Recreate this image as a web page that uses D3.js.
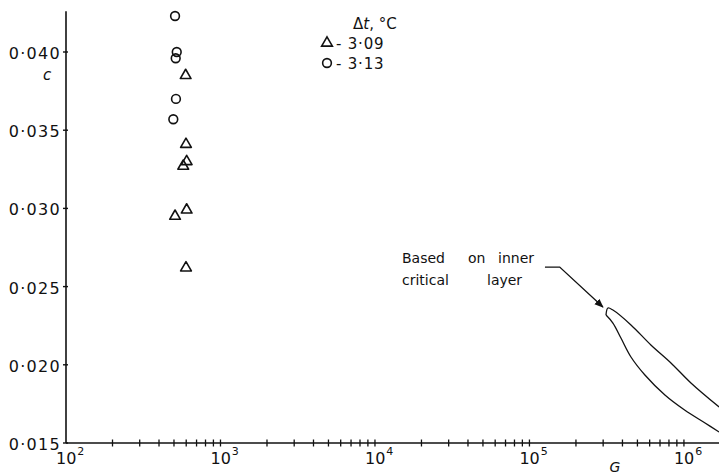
<!DOCTYPE html>
<html>
<head>
<meta charset="utf-8">
<script src="https://cdn.jsdelivr.net/npm/d3@7"></script>
<style>
  html, body { margin: 0; padding: 0; background: #fff; }
  svg { display: block; }
  text { font-family: "DejaVu Sans", sans-serif; fill: #111; }
</style>
</head>
<body>
<svg id="chart" width="719" height="476"></svg>
<script>
// ---- data ----
const circleG = [508, 521, 513, 515, 495];
const circleC = [0.0423, 0.0400, 0.0396, 0.0370, 0.0357];
const triG = [595, 598, 604, 574, 508, 604, 598];
const triC = [0.0385, 0.0341, 0.0330, 0.0327, 0.0295, 0.0299, 0.0262];

const upperG = [3.13e5, 3.22e5, 3.47e5, 4.54e5, 6.11e5, 8.24e5, 1.11e6, 1.69e6];
const upperC = [0.02318, 0.02363, 0.02350, 0.02255, 0.02127, 0.02012, 0.01884, 0.01730];
const lowerG = [3.13e5, 3.47e5, 3.91e5, 4.54e5, 5.59e5, 7.53e5, 1.01e6, 1.37e6, 1.69e6];
const lowerC = [0.02318, 0.02267, 0.02171, 0.02050, 0.01935, 0.01807, 0.01711, 0.01628, 0.01570];

const leaderG = [1.26e5, 1.57e5, 2.99e5];
const leaderC = [0.02625, 0.02625, 0.02369];

const yTicks = [0.015, 0.020, 0.025, 0.030, 0.035, 0.040];
const yTickLabels = ["0·015", "0·020", "0·025", "0·030", "0·035", "0·040"];
const xDecades = [2, 3, 4, 5, 6];
const xLabelBase = "10";
const legendTitle = ["Δ", "t", ", °C"];
const legendRows = [{ sym: "triangle", label: "-  3·09" }, { sym: "circle", label: "-  3·13" }];
const annotLine1 = ["Based", "on", "inner"];
const annotLine2 = ["critical", "layer"];

// ---- layout ----
const svg = d3.select("#chart");
const x = d3.scaleLog().domain([1e2, Math.pow(10, 6.227)]).range([66, 719]);
const y = d3.scaleLinear().domain([0.015, 0.040]).range([443, 52]);
const ink = "#111";

// axes lines
svg.append("line").attr("x1", x(1e2)).attr("x2", x.range()[1])
  .attr("y1", y(0.015)).attr("y2", y(0.015))
  .attr("stroke", ink).attr("stroke-width", 1.6);
svg.append("line").attr("x1", x(1e2)).attr("x2", x(1e2))
  .attr("y1", y(0.015)).attr("y2", y(0.0426))
  .attr("stroke", ink).attr("stroke-width", 1.6);

// y ticks & labels
const yg = svg.append("g");
yg.selectAll("line.t").data(yTicks).join("line")
  .attr("x1", x(1e2) - 3).attr("x2", x(1e2) + 2)
  .attr("y1", d => y(d)).attr("y2", d => y(d))
  .attr("stroke", ink).attr("stroke-width", 1.4);
yg.selectAll("text").data(yTicks).join("text")
  .attr("x", x(1e2) - 5).attr("y", d => y(d) + 7)
  .attr("text-anchor", "end")
  .style("font-size", "16px").style("letter-spacing", "1.3px")
  .text((d, i) => yTickLabels[i]);

// x ticks (log minor + major)
const xTickVals = [];
for (let e = 2; e <= 6; e++) {
  for (let k = 1; k <= 9; k++) {
    const v = k * Math.pow(10, e);
    if (v <= x.domain()[1] && v > 1e2) xTickVals.push(v);
  }
}
svg.append("g").selectAll("line").data(xTickVals).join("line")
  .attr("x1", d => x(d)).attr("x2", d => x(d))
  .attr("y1", y(0.015) - 3.5).attr("y2", y(0.015) + 3.5)
  .attr("stroke", ink).attr("stroke-width", 1.3);

// x labels 10^n
const xl = svg.append("g").selectAll("text").data(xDecades).join("text")
  .attr("x", d => x(Math.pow(10, d)) - 10).attr("y", 464)
  .style("font-size", "16px");
xl.append("tspan").text(xLabelBase);
xl.append("tspan").attr("dy", -9).attr("dx", 1).style("font-size", "11px").text(d => d);

// axis titles
svg.append("text").attr("x", 47).attr("y", 80).attr("text-anchor", "middle")
  .style("font-size", "15px").style("font-style", "italic").text("c");
svg.append("text").attr("x", 615).attr("y", 472).attr("text-anchor", "middle")
  .style("font-size", "14px").style("font-style", "italic").text("G");

// data markers
const circ = d3.symbol().type(d3.symbolCircle).size(60);
const tri = d3.symbol().type(d3.symbolTriangle).size(50);
svg.append("g").selectAll("path").data(circleG.map((g, i) => [g, circleC[i]])).join("path")
  .attr("d", circ).attr("transform", d => `translate(${x(d[0])},${y(d[1])})`)
  .attr("fill", "none").attr("stroke", ink).attr("stroke-width", 1.6);
svg.append("g").selectAll("path").data(triG.map((g, i) => [g, triC[i]])).join("path")
  .attr("d", tri).attr("transform", d => `translate(${x(d[0])},${y(d[1])})`)
  .attr("fill", "none").attr("stroke", ink).attr("stroke-width", 1.6)
  .attr("stroke-linejoin", "round");

// curves
const line = d3.line().x(d => x(d[0])).y(d => y(d[1])).curve(d3.curveCatmullRom.alpha(0.5));
svg.append("path").datum(upperG.map((g, i) => [g, upperC[i]]))
  .attr("d", line).attr("fill", "none").attr("stroke", ink).attr("stroke-width", 1.3);
svg.append("path").datum(lowerG.map((g, i) => [g, lowerC[i]]))
  .attr("d", line).attr("fill", "none").attr("stroke", ink).attr("stroke-width", 1.3);

// leader with arrow
svg.append("defs").append("marker").attr("id", "arr")
  .attr("viewBox", "0 0 10 10").attr("refX", 9).attr("refY", 5)
  .attr("markerWidth", 7).attr("markerHeight", 7).attr("orient", "auto")
  .append("path").attr("d", "M0,1 L10,5 L0,9 Z").attr("fill", ink);
svg.append("path").datum(leaderG.map((g, i) => [g, leaderC[i]]))
  .attr("d", d3.line().x(d => x(d[0])).y(d => y(d[1])))
  .attr("fill", "none").attr("stroke", ink).attr("stroke-width", 1.3)
  .attr("marker-end", "url(#arr)");

// annotation text
const a1x = [402, 468, 498];
const a2x = [402, 487];
svg.append("g").selectAll("text").data(annotLine1).join("text")
  .attr("x", (d, i) => a1x[i]).attr("y", 263).style("font-size", "14px").text(d => d);
svg.append("g").selectAll("text").data(annotLine2).join("text")
  .attr("x", (d, i) => a2x[i]).attr("y", 285).style("font-size", "14px").text(d => d);

// legend
const lt = svg.append("text").attr("x", 353).attr("y", 29).style("font-size", "15px");
lt.append("tspan").text(legendTitle[0]);
lt.append("tspan").style("font-style", "italic").text(legendTitle[1]);
lt.append("tspan").text(legendTitle[2]);
const lg = svg.append("g").selectAll("g").data(legendRows).join("g")
  .attr("transform", (d, i) => `translate(327,${43 + i * 20})`);
lg.append("path")
  .attr("d", d => (d.sym === "circle" ? d3.symbol().type(d3.symbolCircle).size(60)
                                      : d3.symbol().type(d3.symbolTriangle).size(50))())
  .attr("fill", "none").attr("stroke", ink).attr("stroke-width", 1.6);
lg.append("text").attr("x", 9).attr("y", 6).style("font-size", "15px")
  .style("letter-spacing", "0.8px").text(d => d.label);
</script>
</body>
</html>
